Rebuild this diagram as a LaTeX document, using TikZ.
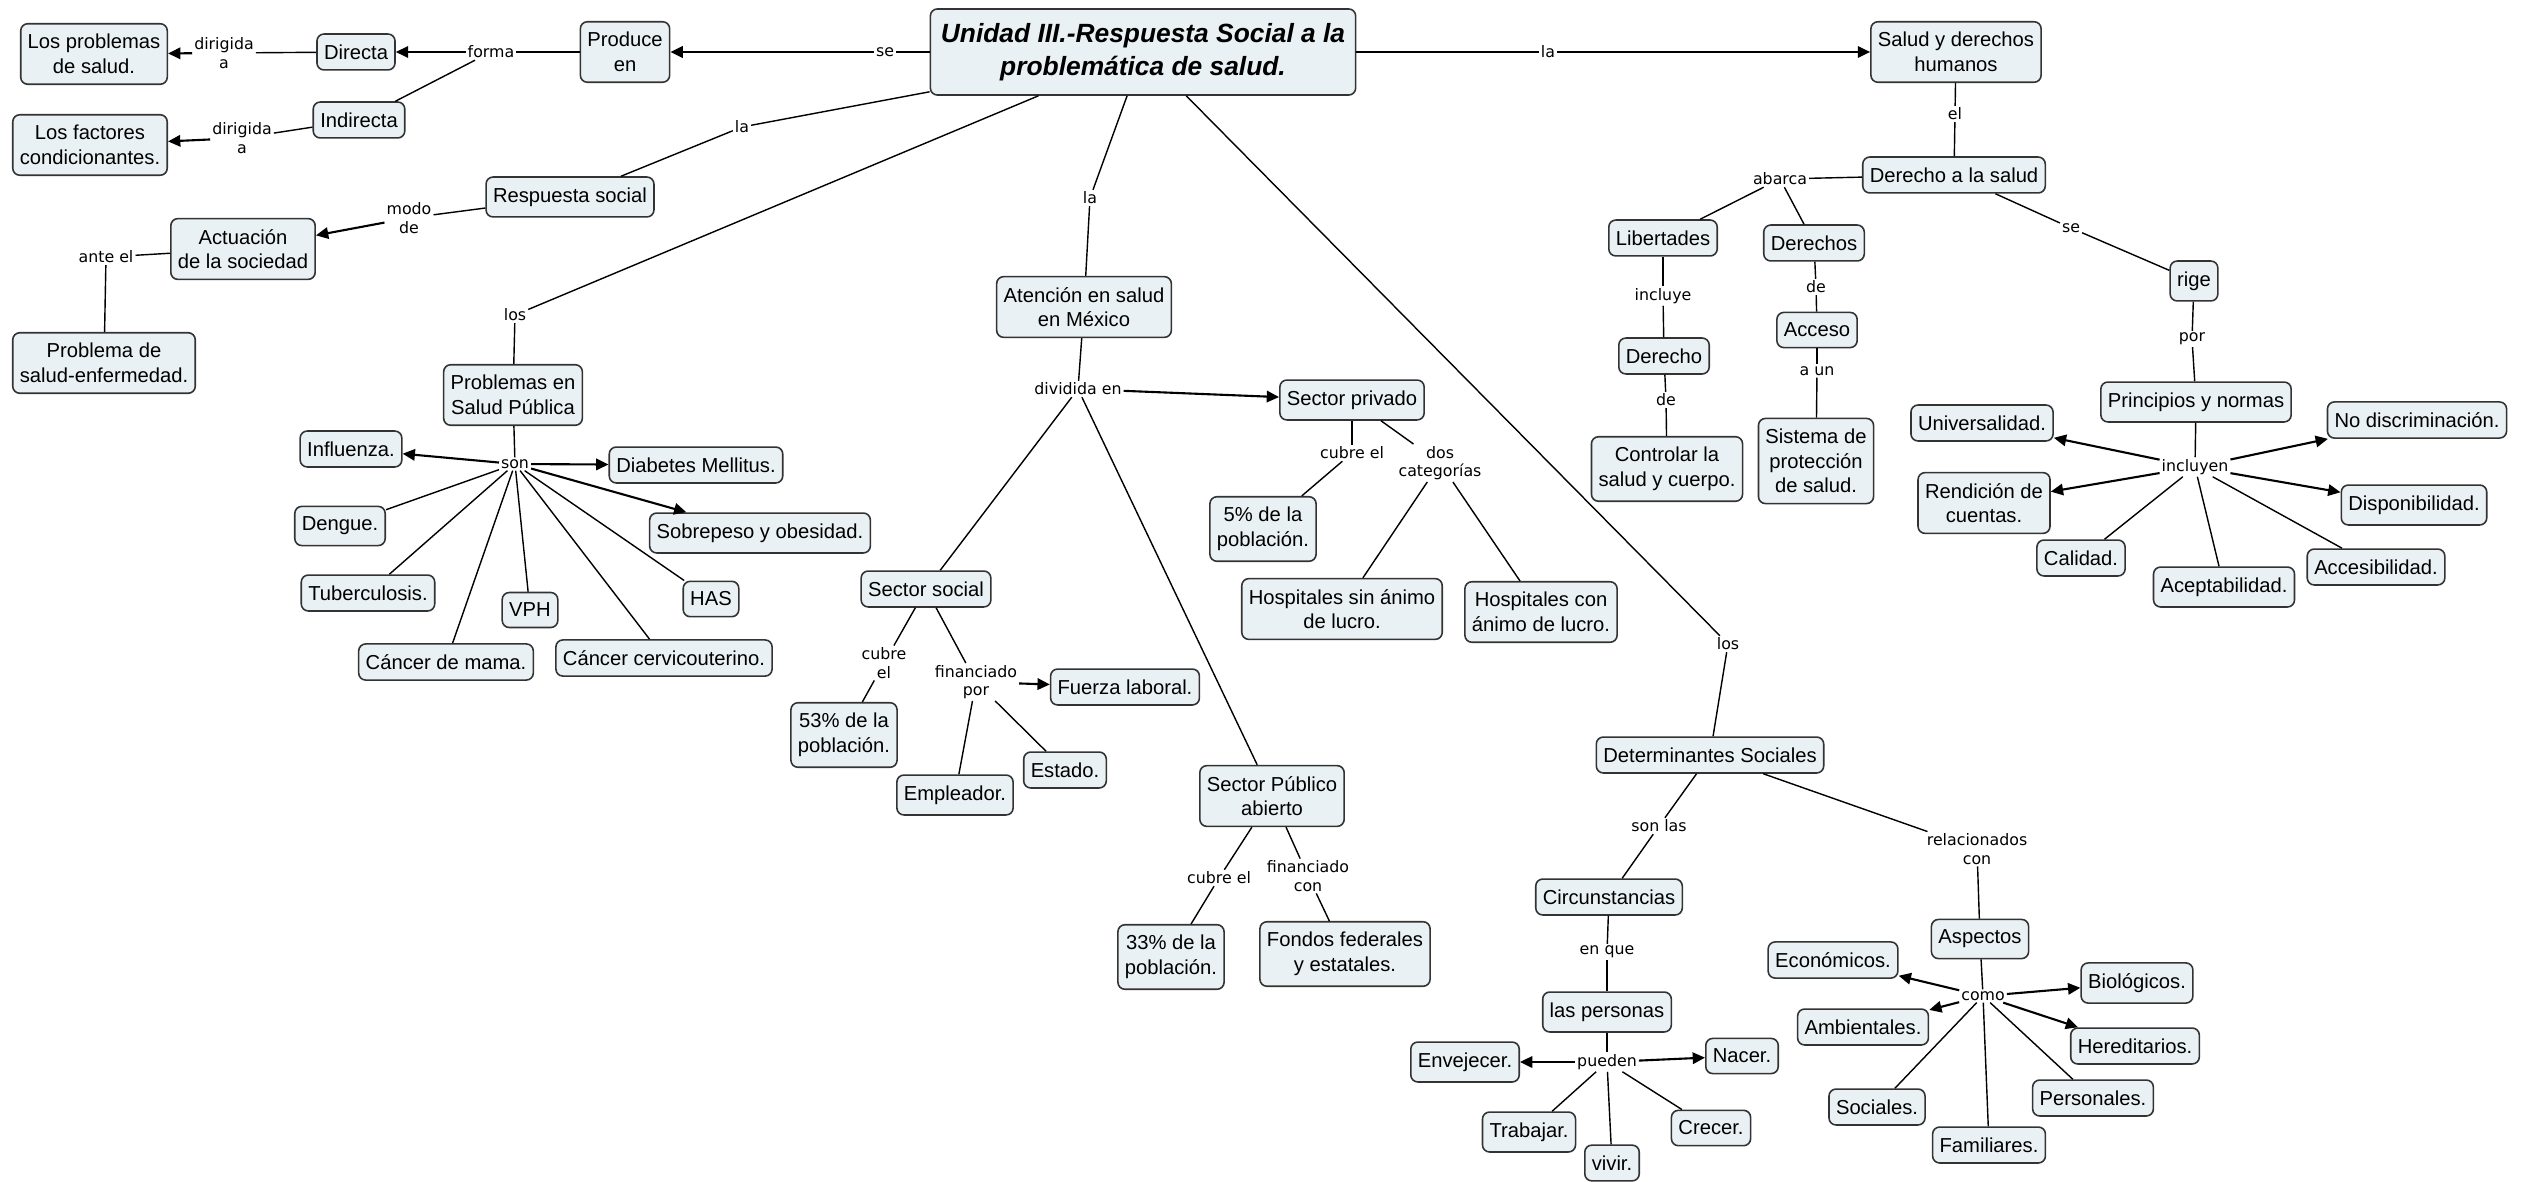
\documentclass[tikz,border=0pt]{standalone}
\usepackage{fontspec}
\setmainfont{Liberation Sans}
\newfontfamily\linkfont{DejaVu Sans}
\usetikzlibrary{arrows.meta}
\definecolor{conceptFill}{RGB}{233,241,245}

\begin{document}
\begin{tikzpicture}[x=0.02cm, y=-0.02cm,
  concept/.style={draw=black!80, fill=conceptFill, rounded corners=4pt, line width=0.9pt,
    align=center, inner xsep=4pt, inner ysep=6pt, font=\fontsize{11.5}{14}\selectfont},
  mainconcept/.style={concept, inner xsep=6pt, inner ysep=8pt,
    font=\fontsize{15}{19}\selectfont\bfseries\itshape},
  linkword/.style={inner sep=1pt, align=center, font=\linkfont\fontsize{9}{10.5}\selectfont},
  link/.style={line width=0.8pt},
  flow/.style={line width=1.2pt, -{Triangle[length=7pt,width=6.5pt]}}]

% Frame of the scanned map
\useasboundingbox (0,0) rectangle (2524,1182);
\fill [white] (0,0) rectangle (2524,1182);

% Main concept
\node [mainconcept] (unidadTres) at (1143,52) {Unidad III.-Respuesta Social a la\\problemática de salud.};

% Left branch: produce en
\node [concept] (produceEn) at (625,52) {Produce\\en};
\node [concept] (directa) at (356,52) {Directa};
\node [concept] (indirecta) at (359,120) {Indirecta};
\node [concept] (problemasSalud) at (94,54) {Los problemas\\de salud.};
\node [concept] (factoresCond) at (90,145) {Los factores\\condicionantes.};
\node [concept] (respuestaSocial) at (570,197) {Respuesta social};
\node [concept] (actuacion) at (243,249) {Actuación\\de la sociedad};
\node [concept] (problemaSaludEnf) at (104,363) {Problema de\\salud-enfermedad.};

\node [linkword] (lblSe) at (885,52) {se};
\node [linkword] (lblForma) at (491,52) {forma};
\node [linkword] (lblDirigidaA) at (224,53) {dirigida\\a};
\node [linkword] (lblDirigidaB) at (242,138) {dirigida\\a};
\node [linkword] (lblLaRespuesta) at (742,127) {la};
\node [linkword] (lblModoDe) at (409,218) {modo\\de};
\node [linkword] (lblAnteEl) at (106,257) {ante el};

% Problemas en salud publica
\node [concept] (problemasSP) at (513,395) {Problemas en\\Salud Pública};
\node [concept] (influenza) at (351,449) {Influenza.};
\node [concept] (diabetes) at (696,465) {Diabetes Mellitus.};
\node [concept] (dengue) at (340,526) {Dengue.};
\node [concept] (sobrepeso) at (760,533) {Sobrepeso y obesidad.};
\node [concept] (tuberculosis) at (368,593) {Tuberculosis.};
\node [concept] (vph) at (530,610) {VPH};
\node [concept] (has) at (711,599) {HAS};
\node [concept] (cancerMama) at (446,662) {Cáncer de mama.};
\node [concept] (cancerCervico) at (664,658) {Cáncer cervicouterino.};

\node [linkword] (lblLos) at (515,315) {los};
\node [linkword] (lblSon) at (515,464) {son};

% Atencion en salud
\node [concept] (atencion) at (1084,307) {Atención en salud\\en México};
\node [concept] (sectorPrivado) at (1352,400) {Sector privado};
\node [concept] (cincoPorCiento) at (1263,529) {5\% de la\\población.};
\node [concept] (hospitalesSin) at (1342,609) {Hospitales sin ánimo\\de lucro.};
\node [concept] (hospitalesCon) at (1541,612) {Hospitales con\\ánimo de lucro.};
\node [concept] (sectorSocial) at (926,589) {Sector social};
\node [concept] (fuerzaLaboral) at (1125,687) {Fuerza laboral.};
\node [concept] (cincuentaTres) at (844,735) {53\% de la\\población.};
\node [concept] (empleador) at (955,795) {Empleador.};
\node [concept] (estado) at (1065,770) {Estado.};
\node [concept] (sectorPublico) at (1272,796) {Sector Público\\abierto};
\node [concept] (treintaTres) at (1171,957) {33\% de la\\población.};
\node [concept] (fondos) at (1345,954) {Fondos federales\\y estatales.};

\node [linkword] (lblLaAtencion) at (1090,198) {la};
\node [linkword] (lblDividida) at (1078,389) {dividida en};
\node [linkword] (lblCubrePrivado) at (1352,453) {cubre el};
\node [linkword] (lblDosCat) at (1440,463) {dos\\categorías};
\node [linkword] (lblCubreSocial) at (884,663) {cubre\\el};
\node [linkword] (lblFinanciadoPor) at (976,682) {financiado\\por};
\node [linkword] (lblCubrePublico) at (1219,878) {cubre el};
\node [linkword] (lblFinanciadoCon) at (1308,876) {financiado\\con};

% Determinantes sociales
\node [concept] (determinantes) at (1710,755) {Determinantes Sociales};
\node [concept] (circunstancias) at (1609,897) {Circunstancias};
\node [concept] (personas) at (1607,1012) {las personas};
\node [concept] (envejecer) at (1465,1062) {Envejecer.};
\node [concept] (nacer) at (1742,1056) {Nacer.};
\node [concept] (trabajar) at (1529,1132) {Trabajar.};
\node [concept] (vivir) at (1612,1163) {vivir.};
\node [concept] (crecer) at (1711,1128) {Crecer.};
\node [concept] (aspectos) at (1980,939) {Aspectos};
\node [concept] (economicos) at (1833,960) {Económicos.};
\node [concept] (biologicos) at (2137,983) {Biológicos.};
\node [concept] (ambientales) at (1863,1027) {Ambientales.};
\node [concept] (hereditarios) at (2135,1046) {Hereditarios.};
\node [concept] (sociales) at (1877,1107) {Sociales.};
\node [concept] (personales) at (2093,1098) {Personales.};
\node [concept] (familiares) at (1989,1145) {Familiares.};

\node [linkword] (lblLosDet) at (1728,644) {los};
\node [linkword] (lblSonLas) at (1659,826) {son las};
\node [linkword] (lblRelacionados) at (1977,849) {relacionados\\con};
\node [linkword] (lblEnQue) at (1607,952) {en que};
\node [linkword] (lblPueden) at (1607,1062) {pueden};
\node [linkword] (lblComo) at (1983,996) {como};

% Salud y derechos humanos
\node [concept] (saludDerechos) at (1956,52) {Salud y derechos\\humanos};
\node [concept] (derechoSalud) at (1954,175) {Derecho a la salud};
\node [concept] (libertades) at (1663,238) {Libertades};
\node [concept] (derechos) at (1814,243) {Derechos};
\node [concept] (derecho) at (1664,356) {Derecho};
\node [concept] (acceso) at (1817,330) {Acceso};
\node [concept] (controlar) at (1667,469) {Controlar la\\salud y cuerpo.};
\node [concept] (sistema) at (1816,461) {Sistema de\\protección\\de salud.};
\node [concept] (rige) at (2194,281) {rige};
\node [concept] (principios) at (2196,402) {Principios y normas};
\node [concept] (universalidad) at (1982,423) {Universalidad.};
\node [concept] (noDiscriminacion) at (2417,420) {No discriminación.};
\node [concept] (rendicion) at (1984,503) {Rendición de\\cuentas.};
\node [concept] (disponibilidad) at (2414,505) {Disponibilidad.};
\node [concept] (calidad) at (2081,558) {Calidad.};
\node [concept] (aceptabilidad) at (2224,587) {Aceptabilidad.};
\node [concept] (accesibilidad) at (2376,567) {Accesibilidad.};

\node [linkword] (lblLaSalud) at (1548,52) {la};
\node [linkword] (lblEl) at (1955,114) {el};
\node [linkword] (lblAbarca) at (1780,179) {abarca};
\node [linkword] (lblIncluye) at (1663,296) {incluye};
\node [linkword] (lblDeDerechos) at (1816,287) {de};
\node [linkword] (lblAUn) at (1817,371) {a un};
\node [linkword] (lblDeDerecho) at (1666,400) {de};
\node [linkword] (lblSeRige) at (2071,228) {se};
\node [linkword] (lblPor) at (2192,339) {por};
\node [linkword] (lblIncluyen) at (2195,467) {incluyen};

% Connectors of the left branch
\draw [link] (unidadTres) -- (lblSe);
\draw [flow] (lblSe) -- (produceEn);
\draw [link] (produceEn) -- (lblForma);
\draw [flow] (lblForma) -- (directa);
\draw [link] (lblForma) -- (indirecta);
\draw [link] (directa) -- (lblDirigidaA);
\draw [flow] (lblDirigidaA) -- (problemasSalud);
\draw [link] (indirecta) -- (lblDirigidaB);
\draw [flow] (lblDirigidaB) -- (factoresCond);
\draw [link] (unidadTres) -- (lblLaRespuesta);
\draw [link] (lblLaRespuesta) -- (respuestaSocial);
\draw [link] (respuestaSocial) -- (lblModoDe);
\draw [flow] (lblModoDe) -- (actuacion);
\draw [link] (actuacion) -- (lblAnteEl);
\draw [link] (lblAnteEl) -- (problemaSaludEnf);

\draw [link] (unidadTres) -- (lblLos);
\draw [link] (lblLos) -- (problemasSP);
\draw [link] (problemasSP) -- (lblSon);
\draw [flow] (lblSon) -- (influenza);
\draw [flow] (lblSon) -- (diabetes);
\draw [flow] (lblSon) -- (sobrepeso);
\draw [link] (lblSon) -- (dengue);
\draw [link] (lblSon) -- (tuberculosis);
\draw [link] (lblSon) -- (cancerMama);
\draw [link] (lblSon) -- (vph);
\draw [link] (lblSon) -- (cancerCervico);
\draw [link] (lblSon) -- (has);

% Connectors of the health care branch
\draw [link] (unidadTres) -- (lblLaAtencion);
\draw [link] (lblLaAtencion) -- (atencion);
\draw [link] (atencion) -- (lblDividida);
\draw [flow] (lblDividida) -- (sectorPrivado);
\draw [link] (lblDividida) -- (sectorSocial);
\draw [link] (lblDividida) -- (sectorPublico);
\draw [link] (sectorPrivado) -- (lblCubrePrivado);
\draw [link] (lblCubrePrivado) -- (cincoPorCiento);
\draw [link] (sectorPrivado) -- (lblDosCat);
\draw [link] (lblDosCat) -- (hospitalesSin);
\draw [link] (lblDosCat) -- (hospitalesCon);
\draw [link] (sectorSocial) -- (lblCubreSocial);
\draw [link] (lblCubreSocial) -- (cincuentaTres);
\draw [link] (sectorSocial) -- (lblFinanciadoPor);
\draw [flow] (lblFinanciadoPor) -- (fuerzaLaboral);
\draw [link] (lblFinanciadoPor) -- (empleador);
\draw [link] (lblFinanciadoPor) -- (estado);
\draw [link] (sectorPublico) -- (lblCubrePublico);
\draw [link] (lblCubrePublico) -- (treintaTres);
\draw [link] (sectorPublico) -- (lblFinanciadoCon);
\draw [link] (lblFinanciadoCon) -- (fondos);

% Connectors of the social determinants
\draw [link] (unidadTres) -- (lblLosDet);
\draw [link] (lblLosDet) -- (determinantes);
\draw [link] (determinantes) -- (lblSonLas);
\draw [link] (lblSonLas) -- (circunstancias);
\draw [link] (circunstancias) -- (lblEnQue);
\draw [link] (lblEnQue) -- (personas);
\draw [link] (personas) -- (lblPueden);
\draw [flow] (lblPueden) -- (envejecer);
\draw [flow] (lblPueden) -- (nacer);
\draw [link] (lblPueden) -- (trabajar);
\draw [link] (lblPueden) -- (vivir);
\draw [link] (lblPueden) -- (crecer);
\draw [link] (determinantes) -- (lblRelacionados);
\draw [link] (lblRelacionados) -- (aspectos);
\draw [link] (aspectos) -- (lblComo);
\draw [flow] (lblComo) -- (economicos);
\draw [flow] (lblComo) -- (biologicos);
\draw [flow] (lblComo) -- (ambientales);
\draw [flow] (lblComo) -- (hereditarios);
\draw [link] (lblComo) -- (sociales);
\draw [link] (lblComo) -- (familiares);
\draw [link] (lblComo) -- (personales);

% Connectors of the human rights branch
\draw [link] (unidadTres) -- (lblLaSalud);
\draw [flow] (lblLaSalud) -- (saludDerechos);
\draw [link] (saludDerechos) -- (lblEl);
\draw [link] (lblEl) -- (derechoSalud);
\draw [link] (derechoSalud) -- (lblAbarca);
\draw [link] (lblAbarca) -- (libertades);
\draw [link] (lblAbarca) -- (derechos);
\draw [link] (libertades) -- (lblIncluye);
\draw [link] (lblIncluye) -- (derecho);
\draw [link] (derecho) -- (lblDeDerecho);
\draw [link] (lblDeDerecho) -- (controlar);
\draw [link] (derechos) -- (lblDeDerechos);
\draw [link] (lblDeDerechos) -- (acceso);
\draw [link] (acceso) -- (lblAUn);
\draw [link] (lblAUn) -- (sistema);
\draw [link] (derechoSalud) -- (lblSeRige);
\draw [link] (lblSeRige) -- (rige);
\draw [link] (rige) -- (lblPor);
\draw [link] (lblPor) -- (principios);
\draw [link] (principios) -- (lblIncluyen);
\draw [flow] (lblIncluyen) -- (universalidad);
\draw [flow] (lblIncluyen) -- (noDiscriminacion);
\draw [flow] (lblIncluyen) -- (rendicion);
\draw [flow] (lblIncluyen) -- (disponibilidad);
\draw [link] (lblIncluyen) -- (calidad);
\draw [link] (lblIncluyen) -- (aceptabilidad);
\draw [link] (lblIncluyen) -- (accesibilidad);

\end{tikzpicture}
\end{document}
